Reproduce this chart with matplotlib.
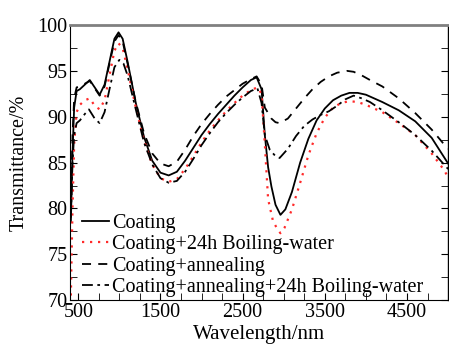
import matplotlib
matplotlib.use("Agg")
import matplotlib.pyplot as plt
from matplotlib.ticker import MultipleLocator, FixedLocator

plt.rcParams['font.family'] = ['Liberation Serif', 'DejaVu Serif']

# Coating
x_coat = [410, 430, 450, 480, 520, 580, 640, 700, 760, 820, 880, 940, 990, 1040,
          1100, 1200, 1300, 1400, 1500, 1600, 1700, 1800, 1900, 2000, 2100, 2200,
          2300, 2400, 2500, 2600, 2670, 2730, 2770, 2810, 2850, 2900, 2960, 3020,
          3100, 3200, 3300, 3400, 3500, 3600, 3700, 3800, 3900, 4000, 4200, 4400,
          4600, 4800, 4950, 5000]
y_coat = [78.5, 86, 91, 92.8, 93.0, 93.5, 94.0, 93.2, 92.4, 93.5, 96.0, 98.5, 99.2, 98.5,
          96.0, 91.5, 87.8, 85.2, 83.9, 83.6, 84.0, 85.2, 86.6, 88.0, 89.2, 90.3,
          91.3, 92.3, 93.2, 94.0, 94.3, 93.0, 88.0, 84.5, 82.4, 80.4, 79.3, 79.9,
          81.8, 85.0, 87.6, 89.6, 90.9, 91.8, 92.3, 92.6, 92.6, 92.4, 91.6, 90.7,
          89.5, 87.7, 85.6, 84.9]

# Coating + 24h boiling water
x_boil = [410, 430, 450, 480, 520, 580, 640, 700, 760, 820, 880, 940, 990, 1040,
          1100, 1200, 1300, 1400, 1500, 1600, 1700, 1800, 1900, 2000, 2100, 2200,
          2300, 2400, 2500, 2600, 2680, 2730, 2770, 2810, 2870, 2920, 2960, 3010,
          3100, 3200, 3300, 3400, 3500, 3600, 3700, 3800, 3900, 4000, 4200, 4400,
          4600, 4800, 4950, 5000]
y_boil = [70.5, 80, 87, 90.5, 91.3, 91.8, 92.0, 91.2, 90.8, 91.8, 94.5, 97.2, 98.0, 97.5,
          95.2, 91.0, 87.4, 84.8, 83.3, 82.9, 83.2, 84.3, 85.7, 87.2, 88.5, 89.6,
          90.6, 91.5, 92.3, 92.9, 93.2, 92.5, 87.0, 81.0, 78.6, 77.8, 77.3, 77.9,
          79.9, 82.8, 85.8, 88.2, 89.9, 91.0, 91.5, 91.7, 91.6, 91.3, 90.5, 89.3,
          88.0, 86.0, 84.2, 83.4]

# Coating + annealing
x_ann = [410, 430, 450, 480, 520, 580, 640, 700, 760, 820, 880, 940, 990, 1040,
         1100, 1200, 1300, 1400, 1500, 1600, 1700, 1800, 1900, 2000, 2100, 2200,
         2300, 2400, 2500, 2600, 2670, 2730, 2770, 2850, 2900, 2950, 3050, 3150,
         3250, 3350, 3450, 3550, 3650, 3770, 3850, 3950, 4050, 4200, 4400, 4600,
         4800, 4950, 5000]
y_ann = [80, 88, 92, 93.2, 93.3, 93.6, 93.9, 93.1, 92.3, 93.3, 95.8, 98.2, 98.9, 98.2,
         95.8, 91.6, 88.2, 86.0, 84.9, 84.6, 85.1, 86.4, 87.9, 89.2, 90.3, 91.3,
         92.2, 92.9, 93.6, 94.1, 94.4, 93.5, 91.0, 89.8, 89.4, 89.3, 89.8, 90.9,
         92.0, 93.0, 93.8, 94.4, 94.8, 95.0, 94.9, 94.5, 94.0, 93.3, 92.0, 90.4,
         88.6, 87.0, 86.5]

# Coating + annealing + 24h boiling water
x_annb = [410, 430, 450, 480, 520, 580, 630, 700, 760, 820, 880, 940, 1000, 1050,
          1100, 1200, 1300, 1400, 1500, 1600, 1700, 1800, 1900, 2000, 2100, 2200,
          2300, 2400, 2500, 2600, 2680, 2730, 2770, 2830, 2900, 2950, 3050, 3150,
          3250, 3350, 3450, 3550, 3650, 3750, 3850, 3950, 4050, 4200, 4400, 4600,
          4800, 4950, 5000]
y_annb = [79, 85, 88, 89.3, 89.6, 90.3, 90.8, 89.8, 89.3, 90.5, 93.0, 95.4, 96.2, 95.8,
          94.5, 90.8, 87.2, 84.8, 83.3, 82.8, 83.0, 84.0, 85.4, 86.9, 88.2, 89.4,
          90.4, 91.3, 92.1, 92.8, 93.1, 91.5, 88.0, 86.4, 85.7, 85.5, 86.5, 87.9,
          89.0, 89.7, 90.2, 90.6, 91.2, 91.9, 92.3, 92.0, 91.6, 90.7, 89.4, 88.0,
          86.3, 84.8, 84.3]

labels = ["Coating", "Coating+24h Boiling-water", "Coating+annealing",
          "Coating+annealing+24h Boiling-water"]
xticks = [500, 1500, 2500, 3500, 4500]

fig = plt.figure(figsize=(4.49, 3.45), dpi=100)
ax = fig.add_axes([0.156, 0.130, 0.842, 0.7975])

ax.plot(x_coat, y_coat, color="black", lw=1.3, ls="-", label=labels[0])
ax.plot(x_boil, y_boil, color="#ff2a2a", lw=1.6, ls=(0, (1, 2.6)), label=labels[1])
ax.plot(x_ann, y_ann, color="black", lw=1.3, ls=(0, (5, 4)), label=labels[2])
ax.plot(x_annb, y_annb, color="black", lw=1.3, ls=(0, (6, 2.5, 1.5, 2.5)), label=labels[3])

ax.set_xlim(400, 5000)
ax.set_ylim(70, 100)
ax.xaxis.set_major_locator(FixedLocator(xticks))
ax.xaxis.set_minor_locator(MultipleLocator(250))
ax.yaxis.set_major_locator(MultipleLocator(5))
ax.yaxis.set_minor_locator(MultipleLocator(2.5))
ax.tick_params(which="both", direction="in", right=True, top=False, labelsize=14.5)
ax.tick_params(which="major", length=5, pad=2)
ax.tick_params(which="minor", length=5)

ax.spines["top"].set_color("#808080")
ax.spines["top"].set_linewidth(2)
ax.spines["right"].set_linewidth(1)

ax.set_xlabel("Wavelength/nm", fontsize=15, labelpad=2)
ax.set_ylabel("Transmittance/%", fontsize=14.5, labelpad=6)

ax.legend(loc="lower left", frameon=False, fontsize=14.5, handlelength=1.35,
          handletextpad=0.15, labelspacing=0.12, borderaxespad=0.0,
          borderpad=0.2, bbox_to_anchor=(0.02, -0.005))

fig.savefig("out.png", dpi=100)
